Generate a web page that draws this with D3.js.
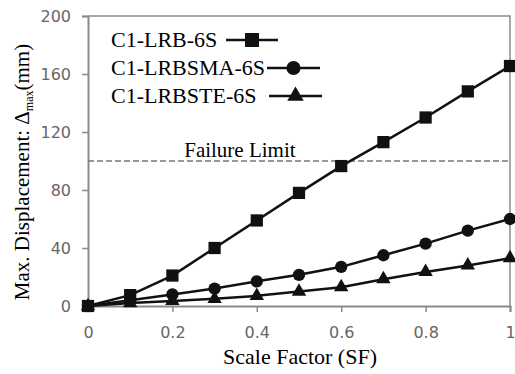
<!DOCTYPE html>
<html>
<head>
<meta charset="utf-8">
<script src="https://cdn.jsdelivr.net/npm/d3@7"></script>
</head>
<body style="margin:0">
<svg id="chart" width="515" height="374"></svg>
<script>
const scaleFactor = [0, 0.1, 0.2, 0.3, 0.4, 0.5, 0.6, 0.7, 0.8, 0.9, 1];
const lrb    = [0, 7.5, 21, 40, 59, 78, 96.5, 113, 130, 148, 165.5];
const lrbsma = [0, 4, 8, 12, 17, 21.5, 27, 35, 43, 52, 60];
const lrbste = [0, 2, 3.5, 5, 7, 10, 13, 18.5, 23.5, 28, 33];
const xTicks = [0, 0.2, 0.4, 0.6, 0.8, 1];
const yTicks = [0, 40, 80, 120, 160, 200];
const failureLimit = 100;

const series = [
  {name: "C1-LRB-6S", values: lrb, symbol: d3.symbolSquare, size: 150},
  {name: "C1-LRBSMA-6S", values: lrbsma, symbol: d3.symbolCircle, size: 120},
  {name: "C1-LRBSTE-6S", values: lrbste, symbol: d3.symbolTriangle, size: 90}
];

const SERIF = "'Times New Roman', 'Liberation Serif', Tinos, serif";
const width = 515, height = 374;
const margin = {top: 16, right: 5, bottom: 68, left: 88};
const w = width - margin.left - margin.right;
const h = height - margin.top - margin.bottom;

const svg = d3.select("#chart");

// serif text helper
function serifText(parent, size) {
  return parent.append("text")
    .attr("font-family", SERIF)
    .attr("font-size", size)
    .style("font-family", SERIF, "important");
}

const g = svg.append("g")
  .attr("transform", `translate(${margin.left},${margin.top})`);

const x = d3.scaleLinear().domain([0, 1]).range([0, w]);
const y = d3.scaleLinear().domain([0, 200]).range([h, 0]);

// frame (top / right)
g.append("path")
  .attr("d", `M0,0H${w}V${h}`)
  .attr("fill", "none").attr("stroke", "#8a8a8a").attr("stroke-width", 1.5);

// axes
const xAxis = g.append("g")
  .attr("transform", `translate(0,${h})`)
  .call(d3.axisBottom(x).tickValues(xTicks).tickSize(6).tickFormat(d => d));
const yAxis = g.append("g")
  .call(d3.axisLeft(y).tickValues(yTicks).tickSize(6));

[xAxis, yAxis].forEach(a => {
  a.attr("font-family", null).attr("font-size", null);
  a.select(".domain").attr("stroke", "#8a8a8a").attr("stroke-width", 2);
  a.selectAll(".tick line").attr("stroke", "#8a8a8a").attr("stroke-width", 1.5);
  a.selectAll(".tick text")
    .attr("fill", "#666")
    .attr("font-family", "DejaVu Sans")
    .attr("font-size", 16);
});
xAxis.selectAll(".tick text").attr("y", 21);
yAxis.selectAll(".tick text").attr("x", -17);

// failure limit
g.append("line")
  .attr("x1", 0).attr("x2", w)
  .attr("y1", y(failureLimit)).attr("y2", y(failureLimit))
  .attr("stroke", "#777").attr("stroke-width", 1.5)
  .attr("stroke-dasharray", "6 3");

serifText(g, 21)
  .attr("x", x(0.36)).attr("y", y(failureLimit) - 4)
  .attr("text-anchor", "middle")
  .text("Failure Limit");

// lines and markers
const line = d3.line()
  .x((d, i) => x(scaleFactor[i]))
  .y(d => y(d));

series.forEach(s => {
  g.append("path")
    .datum(s.values)
    .attr("fill", "none")
    .attr("stroke", "#111")
    .attr("stroke-width", 2.5)
    .attr("d", line);

  g.selectAll(null)
    .data(s.values)
    .join("path")
    .attr("d", d3.symbol().type(s.symbol).size(s.size))
    .attr("transform", (d, i) => `translate(${x(scaleFactor[i])},${y(d)})`)
    .attr("fill", "#111");
});

// legend
const legendRows = [
  {y: 40, x1: 226, x2: 278},
  {y: 68, x1: 267, x2: 320},
  {y: 96, x1: 269, x2: 322}
];
series.forEach((s, i) => {
  const r = legendRows[i];
  serifText(svg, 22)
    .attr("x", 111).attr("y", r.y + 7)
    .text(s.name);
  svg.append("line")
    .attr("x1", r.x1).attr("x2", r.x2)
    .attr("y1", r.y).attr("y2", r.y)
    .attr("stroke", "#111").attr("stroke-width", 2.5);
  svg.append("path")
    .attr("d", d3.symbol().type(s.symbol).size(s.size * 1.3))
    .attr("transform", `translate(${(r.x1 + r.x2) / 2},${r.y})`)
    .attr("fill", "#111");
});

// axis titles
serifText(svg, 22)
  .attr("x", 300).attr("y", 364)
  .attr("text-anchor", "middle")
  .text("Scale Factor (SF)");

const yTitle = serifText(svg, 21)
  .attr("transform", "translate(29,172) rotate(-90)")
  .attr("text-anchor", "middle");
yTitle.append("tspan").text("Max. Displacement: \u0394");
yTitle.append("tspan").attr("dy", 4).attr("font-size", 12).text("max");
yTitle.append("tspan").attr("dy", -4).text("(mm)");
</script>
</body>
</html>
